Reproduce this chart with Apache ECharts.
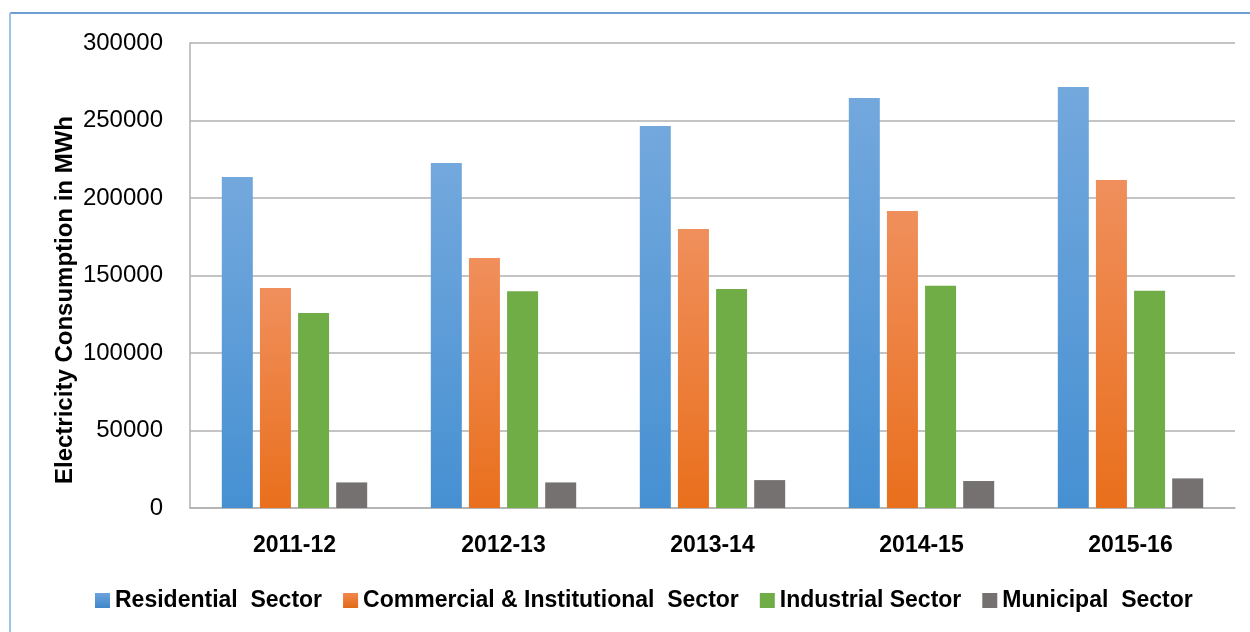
<!DOCTYPE html>
<html>
<head>
<meta charset="utf-8">
<script src="https://cdn.jsdelivr.net/npm/echarts@6/dist/echarts.min.js"></script>
<style>
html,body{margin:0;padding:0;background:#fff;}
#chart{width:1250px;height:632px;}
</style>
</head>
<body>
<div id="chart"></div>
<script>
var categories = ['2011-12', '2012-13', '2013-14', '2014-15', '2015-16'];
var seriesNames = ['Residential  Sector', 'Commercial & Institutional  Sector', 'Industrial Sector', 'Municipal  Sector'];
var residential = [213500, 222600, 246400, 264500, 271600];
var commercial = [142000, 161300, 180000, 191600, 211600];
var industrial = [125800, 139800, 141300, 143400, 140200];
var municipal = [16500, 16500, 18000, 17400, 19100];
var yTicks = [0, 50000, 100000, 150000, 200000, 250000, 300000];
var yTitle = 'Electricity Consumption in MWh';

function grad(top, bottom) {
  return new echarts.graphic.LinearGradient(0, 0, 0, 1, [
    {offset: 0, color: top}, {offset: 1, color: bottom}
  ]);
}
var colors = [
  grad('#73a8dd', '#4690d2'),
  grad('#f08f5c', '#e96f1c'),
  '#70ad47',
  '#767171'
];
var legendColors = [
  grad('#6ea3da', '#3f86cb'),
  grad('#f3874a', '#e2691a'),
  '#70ad47',
  '#767171'
];
var dataSets = [residential, commercial, industrial, municipal];

var chart = echarts.init(document.getElementById('chart'), null, {renderer: 'canvas'});
var series = dataSets.map(function (d, i) {
  return {
    name: seriesNames[i],
    type: 'bar',
    data: d,
    barWidth: 31,
    barGap: '23%',
    itemStyle: {color: colors[i]},
    emphasis: {disabled: true}
  };
});

chart.setOption({
  animation: false,
  backgroundColor: '#ffffff',
  textStyle: {fontFamily: 'Liberation Sans'},
  graphic: [
    {type: 'line', shape: {x1: 10, y1: 13, x2: 1250, y2: 13}, style: {stroke: '#6f9fd2', lineWidth: 2}},
    {type: 'line', shape: {x1: 10, y1: 13, x2: 10, y2: 632}, style: {stroke: '#9cc3e8', lineWidth: 2}},
    {type: 'text', x: 65, y: 300, rotation: Math.PI / 2,
      style: {text: yTitle, fill: '#000', font: 'bold 24px "Liberation Sans"', align: 'center', verticalAlign: 'middle'}}
  ],
  grid: {left: 190, right: 15, top: 43, bottom: 124, containLabel: false},
  legend: {
    data: seriesNames.map(function (n, i) { return {name: n, itemStyle: {color: legendColors[i]}}; }),
    bottom: 15,
    left: 90,
    itemWidth: 15,
    itemHeight: 15,
    itemGap: 21,
    icon: 'rect',
    textStyle: {fontFamily: 'Liberation Sans', fontWeight: 'bold', fontSize: 23, color: '#000'}
  },
  xAxis: {
    type: 'category',
    data: categories,
    axisLine: {show: true, lineStyle: {color: '#b0b0b0', width: 1.5}},
    axisTick: {show: false},
    axisLabel: {fontFamily: 'Liberation Sans', fontWeight: 'bold', fontSize: 23, color: '#000', margin: 26}
  },
  yAxis: {
    type: 'value',
    min: yTicks[0],
    max: yTicks[yTicks.length - 1],
    interval: yTicks[1] - yTicks[0],
    axisLine: {show: true, lineStyle: {color: '#b0b0b0', width: 1.5}},
    axisTick: {show: false},
    splitLine: {lineStyle: {color: '#b0b0b0', width: 1.5}},
    axisLabel: {fontFamily: 'Liberation Sans', fontSize: 24, color: '#000', margin: 27,
      formatter: function (v) { return String(v); }}
  },
  series: series
});
</script>
</body>
</html>
